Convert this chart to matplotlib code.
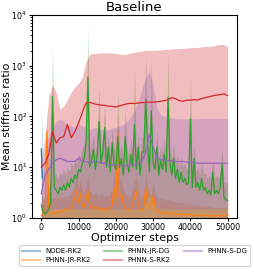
import numpy as np
import matplotlib
matplotlib.use("Agg")
import matplotlib.pyplot as plt
from matplotlib.lines import Line2D

# optimizer steps (coarse grid every 1000, fine grid every 500)
steps_c = np.arange(0, 50001, 1000)
steps_f = np.arange(0, 50001, 500)

labels = ["NODE-RK2", "PHNN-JR-RK2", "PHNN-JR-DG", "PHNN-S-RK2", "PHNN-S-DG"]
colors = ["C0", "C1", "C2", "C3", "C4"]

# NODE-RK2 blows up right away
node_steps = [0, 250, 500]
node_mean = [23, 6, np.nan]
node_lo = [1.0, 1.0, np.nan]
node_hi = [160, 40, np.nan]

# PHNN-JR-RK2 (fine grid)
jr_rk2_mean = [1.1, 1.2, 1.3, 50, 1.5, 1.2, 1.2, 1.3, 1.2, 1.3,
               1.4, 1.3, 1.4, 1.5, 1.4, 1.5, 1.6, 1.8, 2.5, 3.5,
               2.0, 3.0, 1.8, 1.6, 2.2, 3.5, 1.8, 1.6, 1.5, 1.7,
               1.5, 1.4, 1.6, 1.5, 1.4, 1.5, 1.4, 1.6, 1.8, 4.0,
               2.0, 50, 2.5, 3.0, 1.8, 1.6, 1.5, 1.4, 1.5, 1.8,
               2.5, 3.5, 1.8, 1.5, 1.4, 1.6, 4.0, 2.0, 1.6, 1.5,
               2.8, 1.6, 1.4, 1.3, 1.3, 1.3, 1.2, 1.2, 1.3, 1.2,
               1.2, 1.2, 1.2, 1.2, 1.15, 1.15, 1.2, 1.15, 1.15, 1.15,
               1.15, 1.12, 1.15, 1.12, 1.12, 1.12, 1.12, 1.1, 1.12, 1.1,
               1.1, 1.1, 1.1, 1.1, 1.1, 1.1, 1.1, 1.1, 1.1, 1.1, 1.12]
jr_rk2_hi = [2.0, 2.2, 2.5, 90, 3.0, 2.4, 2.4, 2.5, 2.4, 2.5,
             2.6, 2.5, 2.6, 2.8, 2.6, 2.8, 3.0, 3.5, 5.0, 7.0,
             4.0, 6.0, 3.5, 3.0, 4.5, 7.0, 3.5, 3.0, 2.8, 3.2,
             2.8, 2.6, 3.0, 2.8, 2.6, 2.8, 2.6, 3.0, 3.5, 8.0,
             4.0, 90, 5.0, 6.0, 3.5, 3.0, 2.8, 2.6, 2.8, 3.5,
             5.0, 7.0, 3.5, 2.8, 2.6, 3.0, 8.0, 4.0, 3.0, 2.8,
             5.5, 3.0, 2.6, 2.4, 2.4, 2.4, 2.2, 2.2, 2.4, 2.2,
             2.2, 2.1, 2.1, 2.0, 2.0, 2.0, 2.0, 1.9, 1.9, 1.9,
             1.9, 1.8, 1.8, 1.8, 1.8, 1.8, 1.7, 1.7, 1.7, 1.7,
             1.7, 1.7, 1.6, 1.6, 1.6, 1.6, 1.6, 1.6, 1.6, 1.6, 1.6]
jr_rk2_lo = [1.0] * len(steps_f)

# PHNN-JR-DG (fine grid)
jr_dg_mean = [1.8, 1.3, 1.2, 1.3, 1.5, 2.0, 250, 4, 3.5, 3,
              4, 3.5, 4.5, 3.5, 5, 4, 6, 5, 7, 6,
              9, 8, 12, 15, 30, 600, 10, 14, 22, 9,
              18, 80, 12, 20, 60, 10, 25, 8, 30, 12,
              9, 40, 10, 15, 7, 40, 12, 8, 18, 10,
              70, 9, 25, 7, 20, 20, 220, 30, 8, 130,
              12, 9, 25, 7, 14, 9, 18, 8, 240, 12,
              7, 15, 6, 9, 5, 8, 5, 6, 4.5, 5,
              90, 4, 15, 4, 5, 3.5, 6, 3.5, 4, 3,
              3.5, 2.8, 8, 3, 3.5, 3, 4, 12, 2.6, 2.3, 2.2]
jr_dg_hi = [3, 2.5, 2.5, 3, 4, 6, 2700, 8, 7, 6,
            8, 7, 9, 7, 10, 8, 12, 10, 14, 12,
            18, 16, 24, 30, 60, 5800, 20, 28, 45, 18,
            36, 400, 24, 40, 200, 20, 50, 16, 60, 24,
            18, 300, 20, 30, 14, 150, 24, 16, 36, 20,
            900, 18, 50, 14, 40, 40, 1600, 60, 16, 1300,
            24, 18, 50, 14, 28, 18, 36, 16, 1700, 24,
            14, 30, 12, 18, 10, 16, 10, 12, 9, 10,
            700, 8, 30, 8, 10, 7, 12, 7, 8, 6,
            7, 6, 16, 6, 7, 6, 8, 24, 5, 5, 5]
jr_dg_lo = [1.0] * len(steps_f)

# PHNN-S-RK2 (coarse grid)
s_rk2_mean = [10, 12, 18, 50, 30, 38, 40, 70, 38, 50,
              75, 120, 185, 190, 180, 172, 168, 165, 160, 158,
              155, 162, 170, 178, 182, 180, 185, 188, 190, 192,
              190, 195, 200, 205, 215, 235, 225, 205, 200, 210,
              210, 215, 212, 225, 235, 245, 255, 265, 270, 280, 258]
s_rk2_hi = [15, 40, 250, 420, 300, 140, 160, 210, 300, 380,
            450, 600, 1200, 1700, 1750, 1750, 1780, 1800, 1800, 1780,
            1750, 1700, 1650, 1700, 1800, 1850, 1900, 1950, 2000, 2000,
            2000, 2050, 2050, 2100, 2100, 2150, 2150, 2200, 2200, 2250,
            2250, 2300, 2300, 2350, 2400, 2400, 2450, 2550, 2650, 2600, 2400]
s_rk2_lo = [1.0] * len(steps_c)

# PHNN-S-DG (coarse grid)
s_dg_mean = [3, 7, 9, 12, 14, 15, 14, 13, 13, 13,
             15, 13, 13, 12, 13, 13, 12, 12, 11, 11,
             11, 11, 10.5, 10.5, 11, 11, 12, 13, 20, 45,
             25, 16, 14, 14, 13.5, 13.5, 13, 13, 13, 12.5,
             12.5, 12.5, 12, 12, 12, 12, 12, 12, 12, 12, 12]
s_dg_hi = [5, 20, 40, 60, 80, 90, 80, 70, 65, 60,
           70, 65, 60, 55, 60, 60, 55, 55, 55, 60,
           60, 65, 70, 80, 100, 130, 200, 350, 600, 800,
           400, 150, 110, 100, 95, 95, 90, 90, 90, 90,
           90, 90, 90, 92, 92, 92, 92, 92, 92, 92, 90]
s_dg_lo = [1.0, 1.2, 1.4, 1.5, 1.5, 1.5, 1.5, 1.5, 1.5, 1.5,
           1.5, 1.5, 1.5, 1.5, 1.5, 1.5, 1.5, 1.5, 1.5, 1.5,
           1.5, 1.5, 1.5, 1.5, 1.5, 1.5, 1.5, 1.6, 2.0, 3.0,
           2.0, 1.6, 1.5, 1.5, 1.5, 1.5, 1.5, 1.5, 1.5, 1.5,
           1.5, 1.5, 1.5, 1.5, 1.5, 1.5, 1.5, 1.5, 1.5, 1.5, 1.5]

runs = [
    (node_steps, node_mean, node_lo, node_hi),
    (steps_f, jr_rk2_mean, jr_rk2_lo, jr_rk2_hi),
    (steps_f, jr_dg_mean, jr_dg_lo, jr_dg_hi),
    (steps_c, s_rk2_mean, s_rk2_lo, s_rk2_hi),
    (steps_c, s_dg_mean, s_dg_lo, s_dg_hi),
]

fig = plt.figure(figsize=(2.54, 2.79), dpi=100)
ax = fig.add_axes([0.126, 0.219, 0.807, 0.727])

for (x, m, lo, hi), c in zip(runs, colors):
    ax.fill_between(x, lo, hi, color=c, alpha=0.3, linewidth=0)
for (x, m, lo, hi), c in zip(runs, colors):
    ax.plot(x, m, color=c, linewidth=0.9)

ax.set_yscale("log")
ax.set_ylim(1, 1e4)
ax.set_xticks([0, 10000, 20000, 30000, 40000, 50000])
ax.tick_params(labelsize=5.8, length=2.5, pad=1.2)
ax.tick_params(which="minor", length=1.5)
ax.set_title("Baseline", fontsize=9.5, pad=3)
ax.set_xlabel("Optimizer steps", fontsize=8, labelpad=1)
ax.set_ylabel("Mean stiffness ratio", fontsize=7.8)
ax.yaxis.set_label_coords(-0.098, 0.5)

handles = [Line2D([], [], color=c, alpha=0.45, linewidth=1.5) for c in colors]
fig.legend(handles, labels, loc="center", bbox_to_anchor=(0.53, 0.084),
           ncol=3, fontsize=5, frameon=True, handlelength=2.5,
           columnspacing=2.0, borderpad=0.5, labelspacing=0.4)

fig.savefig("out.png", dpi=100)
